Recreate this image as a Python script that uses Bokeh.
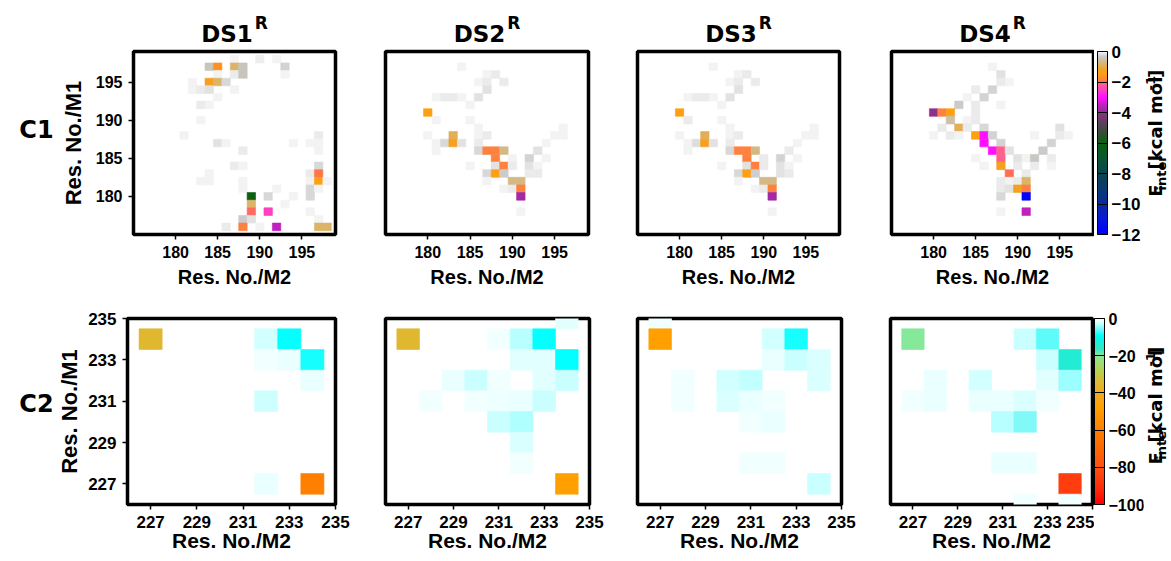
import numpy as np
from bokeh.plotting import figure
from bokeh.models import (Range1d, FixedTicker, LinearColorMapper, ColorBar,
                          Label, ColumnDataSource, AllLabels)
from bokeh.layouts import row, column
from bokeh.transform import transform
from bokeh.embed import file_html
from bokeh.resources import INLINE

# ---------------- data ----------------
row_labels = ["C1", "C2"]
col_titles = ["DS1", "DS2", "DS3", "DS4"]
title_sup = "R"
x_label = "Res. No./M2"
y_label = "Res. No./M1"
c1_ticks = [180, 185, 190, 195]
c2_ticks = [227, 229, 231, 233, 235]
c1_range = (175, 199)
c2_range = (226, 235)
c1_cbar_ticks = [0, -2, -4, -6, -8, -10, -12]
c2_cbar_ticks = [0, -20, -40, -60, -80, -100]
c1_cbar_limits = (-12, 0)
c2_cbar_limits = (-100, 0)
cbar_label_parts = ["E", "inter", "[kcal mol", "-1", "]"]

# (res M2, res M1, E_inter kcal/mol)
c1_ds1 = [
    (187, 198, -0.03), (190, 198, -0.06), (192, 198, -0.03),
    (184, 197, -0.45), (185, 197, -1.65), (187, 197, -0.8), (188, 197, -0.45), (193, 197, -0.28),
    (185, 196, -0.03), (187, 196, -0.1), (188, 196, -0.45), (193, 196, -0.03),
    (182, 195, -0.03), (184, 195, -1.25), (185, 195, -0.8), (186, 195, -0.22),
    (182, 194, -0.03), (183, 194, -0.1), (184, 194, -0.15), (187, 194, -0.03),
    (185, 193, -0.03),
    (183, 192, -0.1), (184, 192, -0.03),
    (183, 190, -0.03),
    (181, 188, -0.03), (197, 188, -0.1),
    (185, 187, -0.15), (186, 187, -0.03), (194, 187, -0.03), (196, 187, -0.03), (197, 187, -0.03),
    (188, 186, -0.1), (197, 186, -0.03),
    (187, 184, -0.1), (188, 184, -0.03), (197, 184, -0.22),
    (184, 183, -0.03), (196, 183, -0.1), (197, 183, -1.95),
    (183, 182, -0.03), (184, 182, -0.03), (188, 182, -0.03), (196, 182, -0.03), (197, 182, -1.5), (198, 182, -0.03),
    (188, 181, -0.03), (192, 181, -0.03), (196, 181, -0.22), (197, 181, -0.03),
    (189, 180, -6.0), (191, 180, -0.22), (194, 180, -0.03), (196, 180, -0.22),
    (189, 179, -0.8), (193, 179, -0.03),
    (189, 178, -2.05), (191, 178, -2.5), (196, 178, -0.03),
    (188, 177, -0.36), (189, 177, -0.15), (197, 177, -0.03),
    (186, 176, -0.1), (188, 176, -1.85), (190, 176, -0.03), (192, 176, -3.5), (197, 176, -0.8), (198, 176, -0.8),
]

c1_ds2 = [
    (184, 197, -0.03),
    (187, 196, -0.03), (188, 196, -0.1),
    (186, 195, -0.03), (187, 195, -0.1), (189, 195, -0.1),
    (187, 194, -0.15),
    (181, 193, -0.03), (182, 193, -0.1), (183, 193, -0.1), (184, 193, -0.03), (186, 193, -0.15),
    (185, 192, -0.03),
    (180, 191, -1.5),
    (181, 190, -0.03), (185, 190, -0.03),
    (186, 189, -0.03), (196, 189, -0.03),
    (180, 188, -0.03), (183, 188, -0.9), (186, 188, -0.03), (187, 188, -0.1), (195, 188, -0.03), (196, 188, -0.03),
    (181, 187, -0.03), (182, 187, -0.22), (183, 187, -1.25), (184, 187, -0.15), (186, 187, -0.1), (194, 187, -0.03),
    (181, 186, -0.03), (186, 186, -0.22), (187, 186, -1.85), (188, 186, -1.85), (189, 186, -0.7), (193, 186, -0.15),
    (188, 185, -1.85), (190, 185, -0.03), (192, 185, -0.28), (194, 185, -0.03),
    (185, 184, -0.03), (188, 184, -0.15), (189, 184, -1.85), (190, 184, -0.1), (192, 184, -0.15), (193, 184, -0.03),
    (187, 183, -0.22), (188, 183, -1.5), (189, 183, -0.36), (192, 183, -0.1), (193, 183, -0.1),
    (187, 182, -0.03), (190, 182, -0.7), (191, 182, -0.7),
    (189, 181, -0.03), (190, 181, -0.1), (191, 181, -1.85),
    (191, 180, -3.8),
    (191, 178, -0.03),
]

c1_ds3 = [
    (184, 197, -0.03),
    (187, 196, -0.03), (188, 196, -0.1),
    (186, 195, -0.03), (187, 195, -0.1), (189, 195, -0.1),
    (187, 194, -0.15),
    (181, 193, -0.03), (182, 193, -0.1), (183, 193, -0.1), (184, 193, -0.03), (186, 193, -0.15),
    (185, 192, -0.03),
    (180, 191, -1.5),
    (181, 190, -0.1), (185, 190, -0.03),
    (186, 189, -0.03), (196, 189, -0.03),
    (180, 188, -0.03), (183, 188, -0.9), (186, 188, -0.03), (187, 188, -0.1), (195, 188, -0.03), (196, 188, -0.03),
    (181, 187, -0.03), (182, 187, -0.2), (183, 187, -1.3), (184, 187, -0.15), (186, 187, -0.1), (194, 187, -0.03),
    (181, 186, -0.03), (186, 186, -0.22), (187, 186, -1.85), (188, 186, -1.85), (189, 186, -0.7), (193, 186, -0.1),
    (188, 185, -1.85), (190, 185, -0.1), (192, 185, -0.28), (194, 185, -0.03),
    (185, 184, -0.03), (188, 184, -0.15), (189, 184, -1.85), (190, 184, -0.1), (192, 184, -0.15), (193, 184, -0.03),
    (187, 183, -0.22), (188, 183, -1.5), (189, 183, -0.3), (192, 183, -0.15), (193, 183, -0.1),
    (187, 182, -0.03), (190, 182, -0.7), (191, 182, -0.7),
    (189, 181, -0.03), (190, 181, -0.1), (191, 181, -1.85),
    (191, 180, -3.8),
    (191, 178, -0.03),
]

c1_ds4 = [
    (187, 197, -0.03),
    (188, 196, -0.15),
    (188, 195, -0.1), (189, 195, -0.03),
    (185, 194, -0.1), (187, 194, -0.28),
    (184, 193, -0.03), (186, 193, -0.28),
    (183, 192, -0.36), (185, 192, -0.1), (188, 192, -0.03),
    (180, 191, -4.0), (181, 191, -1.85), (182, 191, -1.5), (185, 191, -0.1),
    (182, 190, -0.55), (184, 190, -0.03), (185, 190, -0.1),
    (181, 189, -0.1), (183, 189, -0.9), (184, 189, -0.1), (186, 189, -0.22), (195, 189, -0.15),
    (180, 188, -0.03), (182, 188, -0.1), (183, 188, -0.03), (185, 188, -1.5), (186, 188, -3.0),
    (187, 188, -0.28), (192, 188, -0.03), (195, 188, -0.1), (196, 188, -0.03),
    (186, 187, -3.0), (188, 187, -0.28), (194, 187, -0.28),
    (187, 186, -3.0), (188, 186, -2.15), (189, 186, -0.15), (193, 186, -0.36),
    (185, 185, -0.03), (188, 185, -2.15), (190, 185, -0.15), (191, 185, -0.03), (192, 185, -0.42), (194, 185, -0.1),
    (186, 184, -0.03), (188, 184, -1.25), (190, 184, -0.1), (192, 184, -0.1), (194, 184, -0.03),
    (189, 183, -2.0), (191, 183, -0.1),
    (188, 182, -0.1), (189, 182, -0.03), (190, 182, -0.1), (191, 182, -0.8),
    (188, 181, -0.1), (189, 181, -0.15), (190, 181, -1.25), (191, 181, -1.85),
    (188, 180, -0.22), (191, 180, -11.8),
    (188, 178, -0.03), (191, 178, -3.5),
]

c2_ds1 = [
    (227, 234, -35), (232, 234, -2.3), (233, 234, -9),
    (232, 233, -0.5), (233, 233, -1.0), (234, 233, -8.5),
    (234, 232, -1.0),
    (232, 231, -2.5),
    (232, 227, -1.0), (234, 227, -60),
]

c2_ds2 = [
    (234, 235, -1.5),
    (227, 234, -35), (231, 234, -0.5), (232, 234, -3.3), (233, 234, -9),
    (232, 233, -1.5), (233, 233, -1.5), (234, 233, -9),
    (229, 232, -1.0), (230, 232, -2.7), (231, 232, -0.5), (233, 232, -1.5), (234, 232, -2.7),
    (228, 231, -0.4), (230, 231, -0.5), (231, 231, -0.7), (232, 231, -1.0), (233, 231, -2.7),
    (231, 230, -2.7), (232, 230, -3.6),
    (232, 229, -1.9),
    (232, 228, -0.5),
    (234, 227, -48),
]

c2_ds3 = [
    (227, 235, -0.5),
    (227, 234, -48), (232, 234, -2.3), (233, 234, -8.5),
    (232, 233, -1.0), (233, 233, -2.7), (234, 233, -1.9),
    (228, 232, -0.5), (230, 232, -2.3), (231, 232, -3.0), (234, 232, -1.9),
    (228, 231, -0.5), (230, 231, -1.9), (231, 231, -1.0), (232, 231, -0.5),
    (231, 230, -0.5), (232, 230, -1.0),
    (231, 228, -0.5), (232, 228, -0.5),
    (234, 227, -2.7),
]

c2_ds4 = [
    (227, 234, -20), (232, 234, -2.7), (233, 234, -6.5),
    (233, 233, -2.7), (234, 233, -14),
    (228, 232, -1.0), (230, 232, -2.3), (233, 232, -1.5), (234, 232, -4.2),
    (227, 231, -0.5), (228, 231, -1.0), (230, 231, -1.0), (231, 231, -1.0), (232, 231, -1.9), (233, 231, -0.5),
    (231, 230, -3.3), (232, 230, -5.5),
    (231, 228, -1.0), (232, 228, -1.0),
    (234, 227, -86),
    (232, 226, -0.5), (234, 226, -0.5),
]

# ---------------- styles ----------------
c1_stops = [(-12.0, "#0000ff"), (-11.0, "#0818d8"), (-10.0, "#0a2aa0"), (-9.0, "#0a3a70"),
            (-8.0, "#0a4550"), (-7.0, "#0a5535"), (-6.0, "#0a6010"), (-5.2, "#404a40"),
            (-4.6, "#604060"), (-4.0, "#903090"), (-3.5, "#c020c0"), (-3.0, "#ff10ff"),
            (-2.5, "#ff40c0"), (-2.15, "#ff6090"), (-2.0, "#ff7050"), (-1.85, "#ff8040"),
            (-1.65, "#ff9020"), (-1.5, "#ffa010"), (-1.25, "#f5a020"), (-0.8, "#dcb468"),
            (-0.45, "#c8c4bc"), (-0.3, "#cecece"), (-0.2, "#dadada"), (-0.1, "#e8e8e8"),
            (0.0, "#f6f6f6")]
c2_stops = [(-100, "#ff0000"), (-92, "#ff2808"), (-85, "#ff4010"), (-80, "#ff5010"),
            (-70, "#ff6800"), (-60, "#ff8000"), (-48, "#ffa000"), (-42, "#f5a818"),
            (-35, "#e0b830"), (-28, "#b8d050"), (-20, "#88e898"), (-16, "#30e8c8"),
            (-12, "#18f0e0"), (-9, "#00ffff"), (-5.5, "#80f8f8"), (-4, "#a0ffff"),
            (-3.2, "#b8ffff"), (-2.7, "#c8ffff"), (-2.3, "#d0ffff"), (-1.5, "#e0ffff"),
            (-1.0, "#e8ffff"), (-0.5, "#f0ffff"), (0, "#f6ffff")]


def make_palette(stops, n):
    vals = np.array([s[0] for s in stops], float)
    rgb = np.array([[int(h[i:i + 2], 16) for i in (1, 3, 5)] for _, h in stops], float)
    grid = np.linspace(vals.min(), vals.max(), n)
    out = []
    for g in grid:
        r, gg, b = (int(round(np.interp(g, vals, rgb[:, k]))) for k in range(3))
        out.append("#%02x%02x%02x" % (r, gg, b))
    return out


c1_mapper = LinearColorMapper(palette=make_palette(c1_stops, 600), low=c1_cbar_limits[0], high=c1_cbar_limits[1])
c2_mapper = LinearColorMapper(palette=make_palette(c2_stops, 1000), low=c2_cbar_limits[0], high=c2_cbar_limits[1])

LIB = "Liberation Sans"
DJV = "DejaVu Sans"
# DejaVu Sans Bold advance widths (em)
W_DJV = {'D': 0.830, 'S': 0.720, 'R': 0.770, '1': 0.696, '2': 0.696, '3': 0.696, '4': 0.696,
         'E': 0.683, 'i': 0.343, 'n': 0.712, 't': 0.478, 'e': 0.678, 'r': 0.493, ' ': 0.348,
         '[': 0.457, 'k': 0.665, 'c': 0.593, 'a': 0.675, 'l': 0.343, 'm': 1.042, 'o': 0.687,
         '-': 0.415, ']': 0.457}
MID = 0.35  # baseline -> middle offset (fraction of font size)


def text_w(s, size, table):
    return sum(table.get(ch, 0.6) for ch in s) * size


PAGE_W = 1171
TITLE_H = 44
ROW1 = (44, 290)
ROW2 = (290, 561)
STRIP_L = 54
CB_X0 = 1094      # colour-bar strip left edge (its 4-px dummy frame ends at 1098)
CB_W = 49
LAB_X0 = CB_X0 + CB_W

# panels: page box (left, top, width, height) and frame (left, top, w, h)
top_specs = [
    dict(box=(54, 44, 306, 246), frame=(133, 50, 202, 188)),
    dict(box=(360, 44, 252, 246), frame=(385, 50, 203, 188)),
    dict(box=(612, 44, 252, 246), frame=(637, 50, 202, 188)),
    dict(box=(864, 44, 230, 246), frame=(891, 51, 202, 188)),
]
bot_specs = [
    dict(box=(54, 290, 306, 271), frame=(124, 318, 211, 188)),
    dict(box=(360, 290, 252, 271), frame=(385, 318, 204, 188)),
    dict(box=(612, 290, 252, 271), frame=(637, 318, 204, 188)),
    dict(box=(864, 290, 230, 271), frame=(890, 315, 202, 189)),
]
# colour bars: page (top, height)
cbar_spans = [(50, 189), (315, 189)]


def strip(x0, y0, w, h):
    """A text-only figure whose coordinates are page pixels (y negated)."""
    p = figure(width=w, height=h, x_range=Range1d(x0, x0 + w), y_range=Range1d(-(y0 + h), -y0),
               output_backend="svg", toolbar_location=None, title=None,
               min_border=0, x_axis_location=None, y_axis_location=None)
    p.xgrid.grid_line_color = None
    p.ygrid.grid_line_color = None
    p.outline_line_color = None
    p.background_fill_color = "white"
    p.border_fill_color = "white"
    return p


def add_text(p, x, y_base, text, size, font, align='left'):
    # horizontal text; y_base: alphabetic baseline in page px
    p.add_layout(Label(x=x, y=-(y_base - MID * size), text=text, text_font=font,
                       text_font_style='bold', text_font_size=f'{size}px',
                       text_align=align, text_baseline='middle', text_color='black'))


def add_vtext(p, x_base, y_start, text, size, font):
    # text rotated 90 deg, reading upwards from y_start; x_base: baseline in page px
    w = text_w(text, size, W_DJV)
    cx = x_base - MID * size
    cy = y_start - w / 2
    p.add_layout(Label(x=cx, y=-cy, text=text, text_font=font, text_font_style='bold',
                       text_font_size=f'{size}px', angle=np.pi / 2, text_align='center',
                       text_baseline='middle', text_color='black'))
    return w


def make_panel(spec, cells, ticks, rng, mapper, has_y, tick_size, xlab_size, xlab_standoff, ylab_standoff):
    bl, bt, W, H = spec['box']
    fl, ft, fw, fh = spec['frame']
    p = figure(width=W, height=H, x_range=Range1d(*rng), y_range=Range1d(*rng),
               output_backend="svg", toolbar_location=None, title=None,
               min_border_left=fl - bl, min_border_right=bl + W - fl - fw,
               min_border_top=ft - bt, min_border_bottom=bt + H - ft - fh,
               y_axis_location="left" if has_y else None)
    src = ColumnDataSource(dict(x=[c[0] for c in cells], y=[c[1] for c in cells],
                                v=[c[2] for c in cells]))
    p.rect('x', 'y', 1, 1, source=src, fill_color=transform('v', mapper),
           line_color=transform('v', mapper), line_width=0.6)
    p.xgrid.grid_line_color = None
    p.ygrid.grid_line_color = None
    p.outline_line_color = "black"
    p.outline_line_width = 3.5
    p.background_fill_color = "white"
    p.border_fill_color = "white"
    axes = [p.xaxis[0]] + ([p.yaxis[0]] if has_y else [])
    for ax in axes:
        ax.ticker = FixedTicker(ticks=ticks)
        ax.minor_tick_line_color = None
        ax.axis_line_color = None
        ax.major_tick_line_color = "black"
        ax.major_tick_line_width = 1.5
        ax.major_tick_out = 5
        ax.major_tick_in = 0
        ax.major_label_standoff = 6
        ax.major_label_text_font = LIB
        ax.major_label_text_font_style = "bold"
        ax.major_label_text_font_size = f"{tick_size}px"
        ax.major_label_text_color = "black"
        ax.axis_label_text_font = LIB
        ax.axis_label_text_font_style = "bold"
        ax.axis_label_text_color = "black"
    p.xaxis.axis_label = x_label
    p.xaxis.axis_label_text_font_size = f"{xlab_size}px"
    p.xaxis.axis_label_standoff = xlab_standoff
    if has_y:
        p.yaxis.axis_label = y_label
        p.yaxis.axis_label_text_font_size = "22px"
        p.yaxis.axis_label_standoff = ylab_standoff
        p.yaxis.major_label_orientation = "horizontal"
    return p


def cbar_fig(y0, h, span, mapper, ticks, label_size):
    top, length = span
    p = figure(width=CB_W, height=h, x_range=Range1d(0, 1), y_range=Range1d(0, 1),
               output_backend="svg", toolbar_location=None, title=None,
               min_border_left=0, min_border_right=CB_W - 4,
               min_border_top=top - y0, min_border_bottom=(y0 + h) - (top + length),
               x_axis_location=None, y_axis_location=None)
    p.xgrid.grid_line_color = None
    p.ygrid.grid_line_color = None
    p.outline_line_color = None
    p.background_fill_color = "white"
    p.border_fill_color = "white"
    cb = ColorBar(color_mapper=mapper, ticker=FixedTicker(ticks=ticks), width=10,
                  padding=0, margin=0, major_label_policy=AllLabels(),
                  major_label_text_font=LIB, major_label_text_font_style="bold",
                  major_label_text_font_size=f"{label_size}px", major_label_text_color="black",
                  major_tick_in=10, major_tick_out=0, major_tick_line_color="black",
                  major_tick_line_width=1, bar_line_color="black", bar_line_width=1,
                  label_standoff=4, background_fill_color=None, border_line_color=None)
    p.add_layout(cb, 'right')
    return p


def cbar_label_fig(y0, h, label_bottom):
    p = strip(LAB_X0, y0, PAGE_W - LAB_X0, h)
    base_x = 1161
    y = label_bottom
    pieces = [(cbar_label_parts[0], 18, 0, 0), (cbar_label_parts[1], 13, 5, 0),
              (cbar_label_parts[2], 18, 0, 3), (cbar_label_parts[3], 13, -6, 0),
              (cbar_label_parts[4], 18, 0, 1)]
    for txt, size, off, gap in pieces:
        y -= gap
        y -= add_vtext(p, base_x + off, y, txt, size, DJV)
    return p


# title strip
title_fig = strip(0, 0, PAGE_W, TITLE_H)
for i, s in enumerate(top_specs):
    fl, ft, fw, fh = s['frame']
    cx = fl + fw / 2
    w_main = text_w(col_titles[i], 23, W_DJV)
    w_sup = text_w(title_sup, 17, W_DJV)
    start = cx - (w_main + 2 + w_sup) / 2
    add_text(title_fig, start, 42, col_titles[i], 23, DJV)
    add_text(title_fig, start + w_main + 2, 28, title_sup, 17, DJV)

top_data = [c1_ds1, c1_ds2, c1_ds3, c1_ds4]
bot_data = [c2_ds1, c2_ds2, c2_ds3, c2_ds4]

h1 = ROW1[1] - ROW1[0]
left1 = strip(0, ROW1[0], STRIP_L, h1)
add_text(left1, 36, 158, row_labels[0], 24, DJV, align='center')
figs_top = [left1]
for i in range(4):
    figs_top.append(make_panel(top_specs[i], top_data[i], c1_ticks, c1_range, c1_mapper,
                               i == 0, 16, 20, 5, 7))
figs_top.append(cbar_fig(ROW1[0], h1, cbar_spans[0], c1_mapper, c1_cbar_ticks, 17))
figs_top.append(cbar_label_fig(ROW1[0], h1, 237))

h2 = ROW2[1] - ROW2[0]
left2 = strip(0, ROW2[0], STRIP_L, h2)
add_text(left2, 36, 423, row_labels[1], 24, DJV, align='center')
figs_bot = [left2]
for i in range(4):
    figs_bot.append(make_panel(bot_specs[i], bot_data[i], c2_ticks, c2_range, c2_mapper,
                               i == 0, 17, 21, -2, 3))
figs_bot.append(cbar_fig(ROW2[0], h2, cbar_spans[1], c2_mapper, c2_cbar_ticks, 16))
figs_bot.append(cbar_label_fig(ROW2[0], h2, 500))

layout = column(title_fig, row(*figs_top, spacing=0), row(*figs_bot, spacing=0), spacing=0)
open("out.html", "w").write(file_html(layout, INLINE))
